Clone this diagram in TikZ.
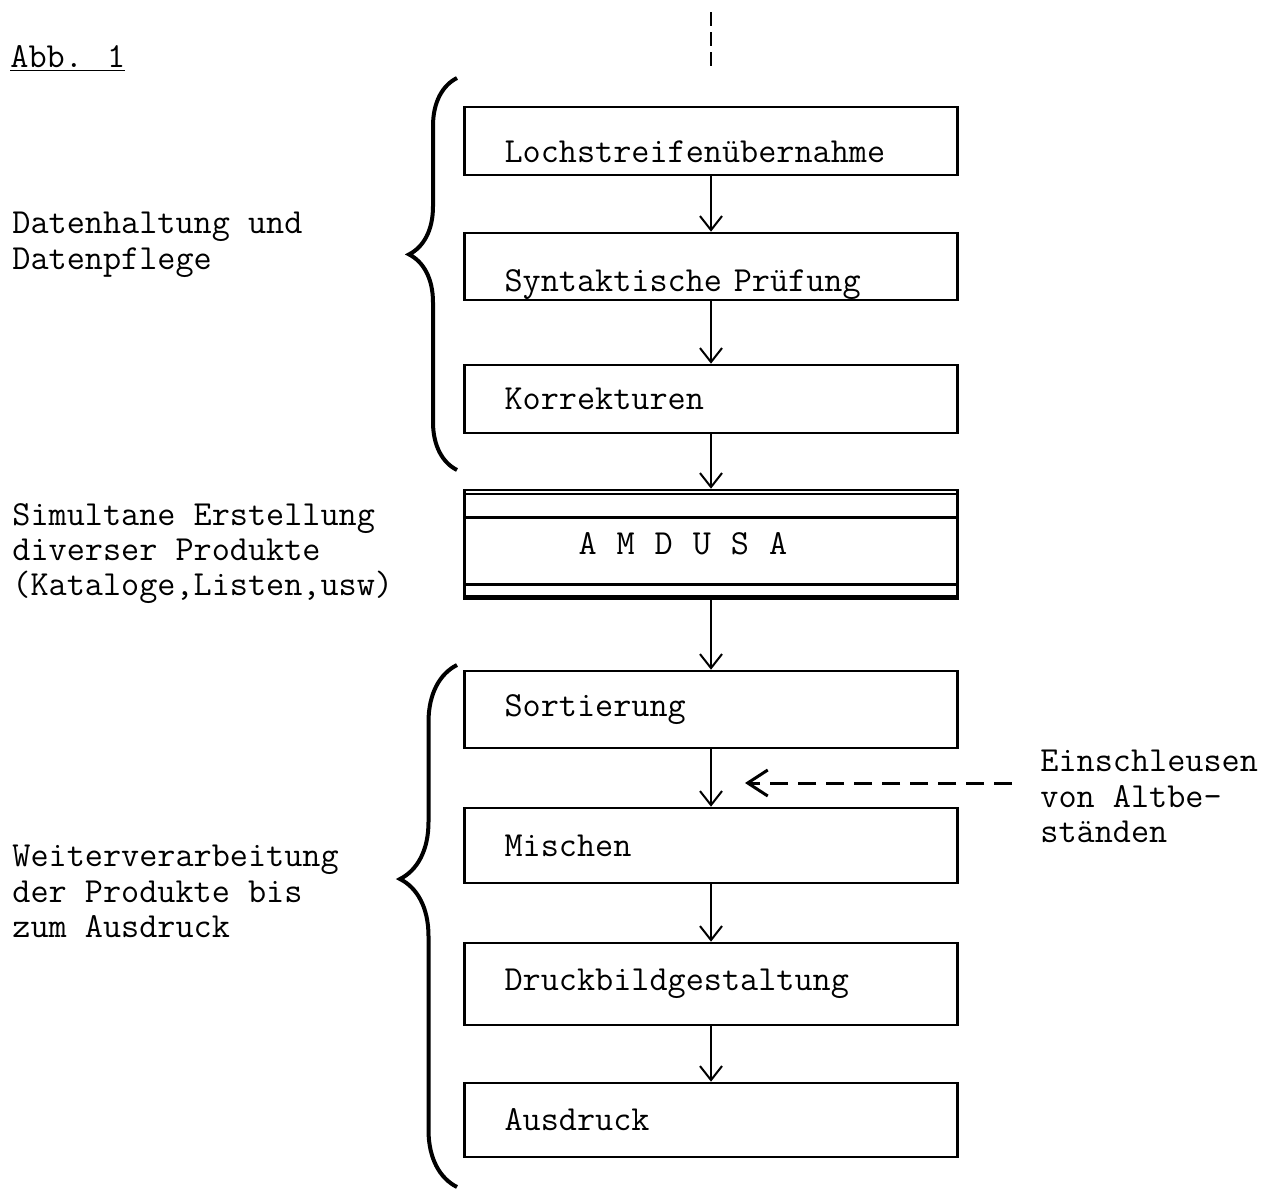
\documentclass[tikz,border=0pt]{standalone}
\usepackage{fontspec}
\usetikzlibrary{decorations.pathreplacing}
\usetikzlibrary{arrows.meta}
\newcommand{\schreibfont}{\ttfamily\fontsize{17.6}{17.6}\selectfont}
\newcommand{\sperr}{\hspace{10pt}}
\tikzset{
	stepbox/.style={rectangle, draw, line width=1.3pt, minimum width=246.5pt, text width=206.5pt, inner xsep=20pt, align=left, font=\schreibfont},
	sidetext/.style={anchor=north west, align=left, inner sep=0pt, font=\schreibfont},
	mybrace/.style={decorate, line width=2pt},
	mydashed/.style = {dash pattern=on 9pt off 5pt}
}

\begin{document}
\begin{tikzpicture}[x=0.5pt, y=-0.5pt, >={Straight Barb[length=7pt, width=11pt]}]
		\useasboundingbox (0,0) rectangle (1282,1189);

		\node[stepbox, minimum height=34pt, text height=21pt, text depth=0pt, inner ysep=0pt] at (711,141) (lochs)    {Lochstreifenübernahme};
		\node[stepbox, minimum height=33.5pt, text height=25pt, text depth=0pt, inner ysep=0pt] at (711,266.5) (synt)    {Syntaktische Prüfung};
		\node[stepbox, minimum height=34pt] at (711,399) (korr)    {Korrekturen};
		\node[stepbox, minimum height=54pt, text width=132.5pt, inner xsep=57pt] at (711,544) (amdusa)    {A\sperr M\sperr D\sperr U\sperr S\sperr A};
		\node[stepbox, minimum height=38.5pt] at (711,709.5) (sort)    {Sortierung};
		\node[stepbox, minimum height=37.5pt] at (711,845.5) (misch)    {Mischen};
		\node[stepbox, minimum height=41pt] at (711,984) (druck)    {Druckbildgestaltung};
		\node[stepbox, minimum height=37pt] at (711,1120) (ausdr)    {Ausdruck};

		% inner lines of the AMDUSA box
		\draw[line width=1pt] ([yshift=-2.5pt]amdusa.north west) -- ([yshift=-2.5pt]amdusa.north east);
		\draw[line width=1.3pt] ([yshift=-14.5pt]amdusa.north west) -- ([yshift=-14.5pt]amdusa.north east);
		\draw[line width=1.3pt] ([yshift=7.5pt]amdusa.south west) -- ([yshift=7.5pt]amdusa.south east);
		\draw[line width=2.5pt] ([yshift=1pt]amdusa.south west) -- ([yshift=1pt]amdusa.south east);

		\coordinate (top1) at (711,12);
		\coordinate (top2) at (711,72);
		\draw[line width=1.3pt, dash pattern=on 7pt off 3pt] (top1) -- (top2);

        \draw[->, line width=1pt] (lochs.south) -- (synt.north); 
        \draw[->, line width=1pt] (synt.south) -- (korr.north); 
        \draw[->, line width=1pt] (korr.south) -- (amdusa.north); 
        \draw[->, line width=1pt] (amdusa.south) -- (sort.north); 
        \draw[->, line width=1pt] (sort.south) -- (misch.north); 
        \draw[->, line width=1pt] (misch.south) -- (druck.north); 
        \draw[->, line width=1pt] (druck.south) -- (ausdr.north); 

		\coordinate (einA) at (1012,783);
		\coordinate (einB) at (745,783);
        \draw[->, line width=1.5pt, mydashed, >={Straight Barb[length=10pt, width=13pt]}] (einA) -- (einB);

		\coordinate (b1bot) at (457,470);
		\coordinate (b1top) at (457,78);
		\coordinate (b2bot) at (457,1187);
		\coordinate (b2top) at (457,665);
		\draw[mybrace, decoration={brace, amplitude=24pt, aspect=0.55}] (b1bot) -- (b1top);
		\draw[mybrace, decoration={brace, amplitude=28.5pt, aspect=0.59}] (b2bot) -- (b2top);

        \node[sidetext] at (10,45) (abb) {\underline{Abb. 1}};
        \node[sidetext] at (12,212) (datenh) {Datenhaltung und\\Datenpflege};
        \node[sidetext] at (12,503) (simult) {Simultane Erstellung\\diverser Produkte\\(Kataloge,Listen,usw)};
        \node[sidetext] at (12,845) (weiter) {Weiterverarbeitung\\der Produkte bis\\zum Ausdruck};
        \node[sidetext] at (1040,750) (einschl) {Einschleusen\\von Altbe-\\ständen};
	\end{tikzpicture}
\end{document}
